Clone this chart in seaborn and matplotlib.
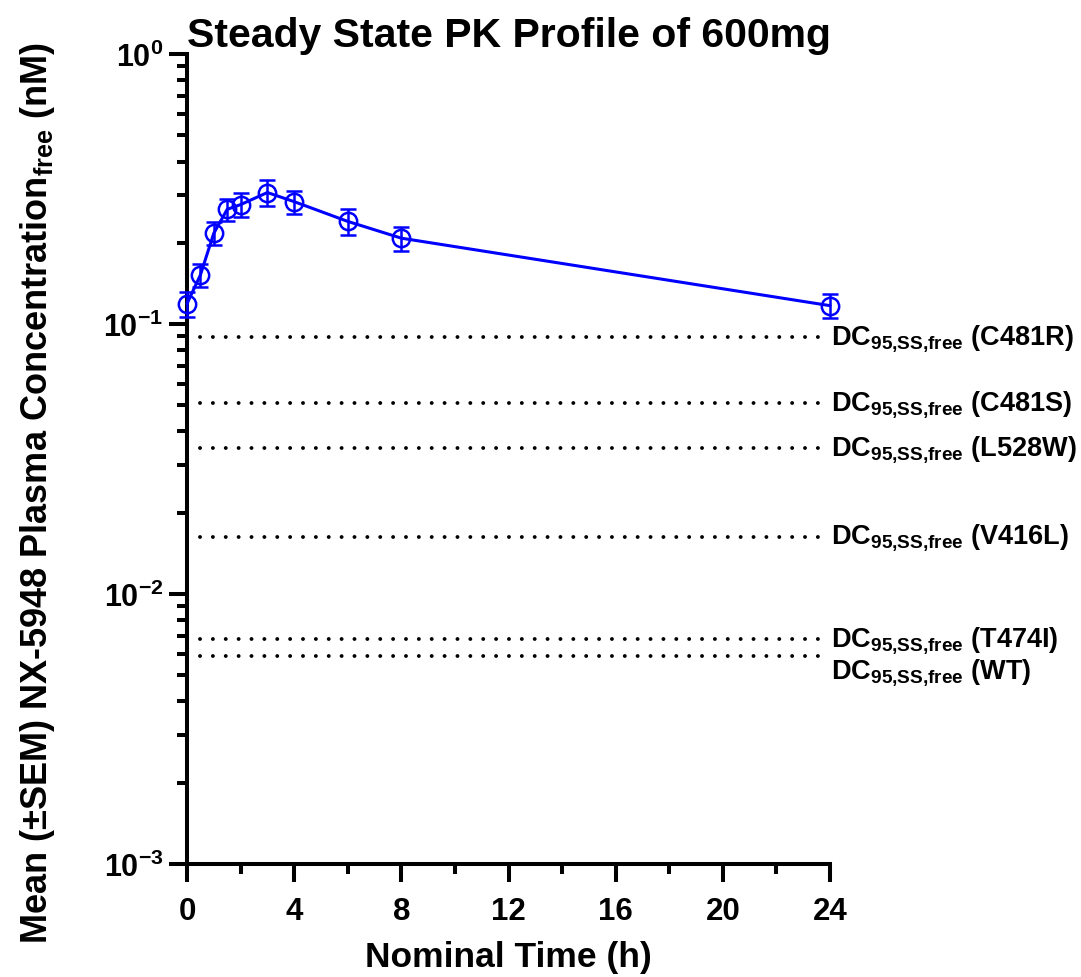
import numpy as np
import pandas as pd
import seaborn as sns
import matplotlib.pyplot as plt
from matplotlib.ticker import LogLocator, MultipleLocator, NullFormatter

# mean (+/- SEM) free plasma concentration, nM
time_h = [0, 0.5, 1, 1.5, 2, 3, 4, 6, 8, 24]
conc_mean = [0.119, 0.152, 0.217, 0.266, 0.277, 0.307, 0.284, 0.240, 0.208, 0.117]
conc_sem = [0.013, 0.015, 0.021, 0.025, 0.028, 0.034, 0.028, 0.027, 0.021, 0.012]

# DC95 steady state free thresholds per variant
dc_variants = ["C481R", "C481S", "L528W", "V416L", "T474I", "WT"]
dc_values = [0.0895, 0.0510, 0.0347, 0.0163, 0.0068, 0.0059]

x_ticks = [0, 4, 8, 12, 16, 20, 24]

sns.set_theme(style="ticks")
plt.rcParams["font.family"] = ["Liberation Sans", "DejaVu Sans"]
plt.rcParams["font.weight"] = "bold"
plt.rcParams["mathtext.fontset"] = "custom"
plt.rcParams["mathtext.rm"] = "Liberation Sans:bold"
plt.rcParams["mathtext.it"] = "Liberation Sans:bold"
plt.rcParams["mathtext.bf"] = "Liberation Sans:bold"
plt.rcParams["mathtext.sf"] = "Liberation Sans:bold"
plt.rcParams["axes.unicode_minus"] = False
for key in ["text.color", "axes.labelcolor", "xtick.color", "ytick.color",
            "xtick.labelcolor", "ytick.labelcolor"]:
    plt.rcParams[key] = "black"

df = pd.DataFrame({"time": time_h, "conc": conc_mean, "sem": conc_sem})

fig = plt.figure(figsize=(10.81, 9.78), dpi=100)
ax = fig.add_axes([0.173, 0.1155, 0.5948, 0.8282])

blue = "#0000ff"
sns.lineplot(data=df, x="time", y="conc", ax=ax, color=blue, linewidth=2.2,
             marker="o", markersize=12.5, markerfacecolor="none",
             markeredgecolor=blue, markeredgewidth=1.8, errorbar=None,
             clip_on=False, zorder=4)
ax.errorbar(df["time"], df["conc"], yerr=df["sem"], fmt="none", ecolor=blue,
            elinewidth=1.8, capsize=6, capthick=1.8, clip_on=False, zorder=4)

# dotted threshold lines with labels
for variant, val in zip(dc_variants, dc_values):
    ax.hlines(val, 0.5, 23.6, colors="black", linewidth=2.8,
              linestyles=(0, (0.01, 3.3)), capstyle="round")
    dy = -11 if variant == "WT" else 0
    ax.annotate(r"DC$_{\mathrm{95{,}SS{,}free}}$ (" + variant + ")",
                xy=(24, val), xytext=(1, dy), textcoords="offset points",
                ha="left", va="center", fontsize=19.5, fontweight="bold",
                annotation_clip=False)

ax.set_yscale("log")
ax.set_ylim(1e-3, 1)
ax.set_xlim(0, 24)
ax.set_xticks(x_ticks)
ax.xaxis.set_minor_locator(MultipleLocator(2))
ax.yaxis.set_major_locator(LogLocator(base=10, numticks=10))
ax.yaxis.set_minor_locator(LogLocator(base=10, subs=np.arange(2, 10), numticks=20))
ax.yaxis.set_minor_formatter(NullFormatter())

sns.despine(ax=ax)
for side in ["left", "bottom"]:
    ax.spines[side].set_linewidth(2.9)
    ax.spines[side].set_color("black")

ax.tick_params(which="major", length=13, width=2.9, color="black")
ax.tick_params(which="minor", length=7.5, width=2.9, color="black")
ax.tick_params(axis="x", which="major", labelsize=22.5, pad=10)
ax.tick_params(axis="y", which="major", labelsize=22, pad=4)

ax.set_title("Steady State PK Profile of 600mg", fontsize=29.5,
             fontweight="bold", pad=4)
ax.set_xlabel("Nominal Time (h)", fontsize=25.5, fontweight="bold")
ax.xaxis.set_label_coords(0.5, -0.094)
ax.set_ylabel(r"Mean (±SEM) NX-5948 Plasma Concentration$_{\mathrm{free}}$ (nM)",
              fontsize=26, fontweight="bold")
ax.yaxis.set_label_coords(-0.202, 0.46)

fig.savefig("out.png", dpi=100)
